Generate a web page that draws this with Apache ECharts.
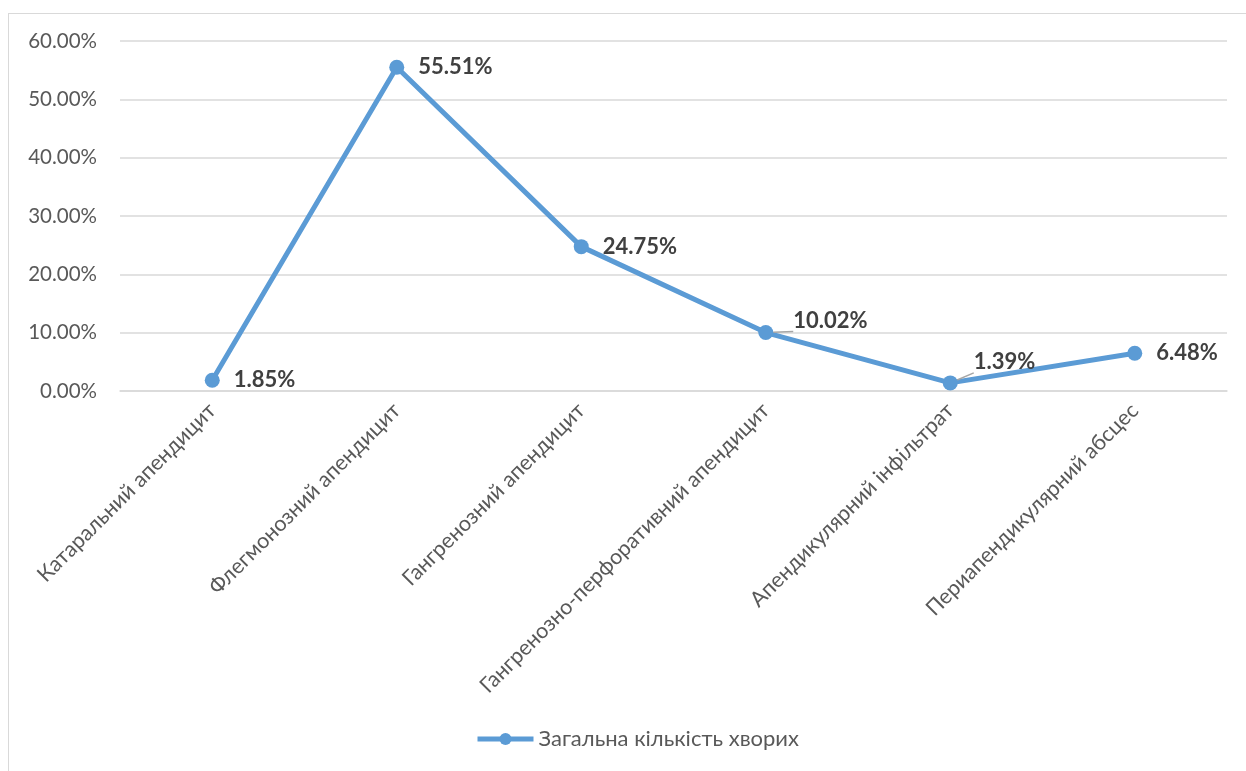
<!DOCTYPE html>
<html><head><meta charset="utf-8">
<script src="https://cdn.jsdelivr.net/npm/echarts@6/dist/echarts.min.js"></script>
<style>html,body{margin:0;padding:0;background:#fff}#c{width:1246px;height:771px}
#frame{position:absolute;left:8px;top:13px;width:1250px;height:770px;border:1.5px solid #d9d9d9;box-sizing:border-box;pointer-events:none}</style>
</head><body><div id="c"></div><div id="frame"></div>
<script>
const categories = ['Катаральний апендицит','Флегмонозний апендицит','Гангренозний апендицит','Гангренозно-перфоративний апендицит','Апендикулярний інфільтрат','Периапендикулярний абсцес'];
const values = [1.85, 55.51, 24.75, 10.02, 1.39, 6.48];
const seriesName = 'Загальна кількість хворих';
const yTicks = {min: 0, max: 60, interval: 10};

const font = 'Lato, sans-serif';
const offsets = [[0,0],[0,0],[0,0],[6,-12],[2,-21],[0,0]];
const leader = [false,false,false,true,true,false];
const chart = echarts.init(document.getElementById('c'));
chart.setOption({
  animation: false,
  grid: {left: 120, right: 19, top: 41, bottom: 380, containLabel: false},
  legend: {bottom: 16, left: 470, itemWidth: 56, itemHeight: 15, itemGap: 4,
    lineStyle: {width: 5},
    textStyle: {fontFamily: font, fontSize: 22, color: '#595959'}, data: [seriesName]},
  xAxis: {type: 'category', data: categories, boundaryGap: true,
    axisLine: {lineStyle: {color: '#d9d9d9', width: 1.5}}, axisTick: {show: false},
    axisLabel: {rotate: 45, interval: 0, fontFamily: font, fontSize: 21.5, color: '#595959', margin: 16}},
  yAxis: {type: 'value', min: yTicks.min, max: yTicks.max, interval: yTicks.interval,
    axisLine: {show: false}, axisTick: {show: false},
    splitLine: {lineStyle: {color: '#d9d9d9', width: 1.5}},
    axisLabel: {formatter: v => v.toFixed(2) + '%', fontFamily: font, fontSize: 20.5, color: '#595959', margin: 23}},
  series: [{
    name: seriesName, type: 'line',
    data: values.map((v,i)=>({value: v, label: {offset: offsets[i]}, labelLine: {show: leader[i]}})),
    symbol: 'circle', symbolSize: 15,
    lineStyle: {color: '#5b9bd5', width: 5}, itemStyle: {color: '#5b9bd5'},
    label: {show: true, position: 'right', distance: 14, formatter: p => p.value.toFixed(2) + '%',
      fontFamily: font, fontSize: 22, fontWeight: 'bold', color: '#404040'},
    labelLine: {show: false, lineStyle: {color: '#a6a6a6', width: 1.5}}
  }]
});
</script></body></html>
